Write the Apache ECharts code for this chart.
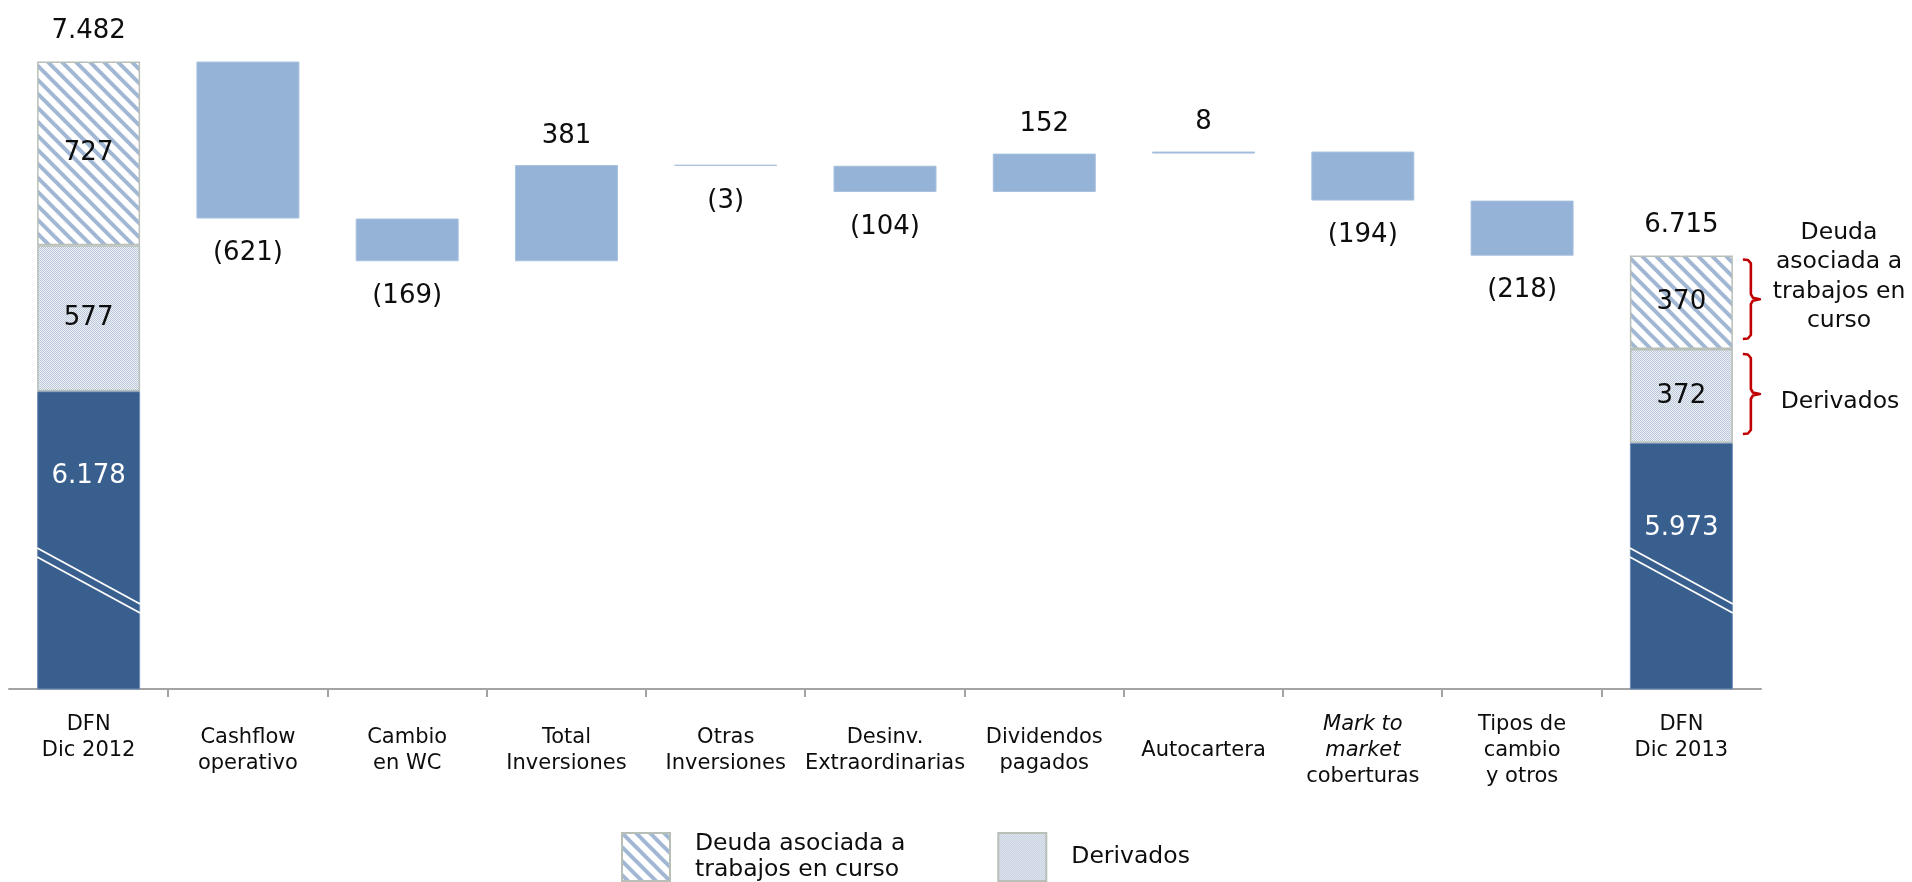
<!DOCTYPE html>
<html>
<head>
<meta charset="utf-8">
<script src="https://cdn.jsdelivr.net/npm/echarts@6/dist/echarts.min.js"></script>
<style>
html,body{margin:0;padding:0;background:#ffffff;}
#chart{width:1912px;height:882px;}
</style>
</head>
<body>
<div id="chart"></div>
<script>
// ---------------- DATA ----------------
const categories = [
  'DFN\nDic 2012', 'Cashflow\noperativo', 'Cambio\nen WC', 'Total\nInversiones',
  'Otras\nInversiones', 'Desinv.\nExtraordinarias', 'Dividendos\npagados', 'Autocartera',
  'Mark to\nmarket\ncoberturas', 'Tipos de\ncambio\ny otros', 'DFN\nDic 2013'
];
// end bars: [Dic 2012, Dic 2013]
const deudaCore = [6178, 5973];
const derivados = [577, 372];
const trabajosEnCurso = [727, 370];
// movements between the two dates (categories 1..9)
const movements = [-621, -169, 381, -3, -104, 152, 8, -194, -218];
const italicLines = ['Mark to', 'market'];
const legendNames = ['Deuda asociada a\ntrabajos en curso', 'Derivados'];
const annotationTexts = ['Deuda\nasociada a\ntrabajos en\ncurso', 'Derivados'];

// ---------------- STYLE ----------------
const FONT = 'DejaVu Sans';
const BAR_W = 103;
const Y_MIN = 5000, Y_MAX = 7500;
const LIGHT = '#95B3D7';
const DARK = '#395F8F';
const SEG_BORDER = '#B7BFB7';
const AXIS_GREY = '#A3A3A3';

function fmt(v) { return String(v).replace(/\B(?=(\d{3})+(?!\d))/g, '.'); }

function hatchPattern() {
  const T = 14;
  const c = document.createElement('canvas');
  c.width = T; c.height = T;
  const g = c.getContext('2d');
  g.fillStyle = '#ffffff'; g.fillRect(0, 0, T, T);
  g.strokeStyle = '#A2B7D4'; g.lineWidth = 4;
  for (let k = -1; k <= 1; k++) {
    g.beginPath(); g.moveTo(k * T - T, -T); g.lineTo(k * T + 2 * T, 2 * T); g.stroke();
  }
  return c;
}
function dotPattern() {
  const c = document.createElement('canvas');
  c.width = 2; c.height = 2;
  const g = c.getContext('2d');
  g.fillStyle = '#EEF1F6'; g.fillRect(0, 0, 2, 2);
  g.fillStyle = '#BAC6DA'; g.fillRect(0, 0, 1, 1); g.fillRect(1, 1, 1, 1);
  return c;
}

// ---------------- BUILD SERIES DATA ----------------
const n = categories.length;
const last = n - 1;
const startTotal = deudaCore[0] + derivados[0] + trabajosEnCurso[0];
const endTotal = deudaCore[1] + derivados[1] + trabajosEnCurso[1];

const baseData = new Array(n).fill('-');
const deltaData = new Array(n).fill('-');
let level = startTotal;
movements.forEach((d, i) => {
  const prev = level;
  level = prev + d;
  baseData[i + 1] = Math.min(prev, level);
  deltaData[i + 1] = { value: Math.abs(d), label: { position: d < 0 ? 'bottom' : 'top', distance: d < 0 ? 22 : 16 } };
});
function endSeries(arr) {
  const a = new Array(n).fill('-');
  a[0] = arr[0]; a[last] = arr[1];
  return a;
}

const chart = echarts.init(document.getElementById('chart'), null, { renderer: 'canvas' });

const labelBase = { fontFamily: FONT, fontSize: 26, color: '#0d0d0d', opacity: 1 };

const option = {
  animation: false,
  backgroundColor: '#ffffff',
  grid: { left: 9, right: 151, top: 57, bottom: 193, outerBoundsMode: 'none', containLabel: false },
  xAxis: {
    type: 'category',
    data: categories,
    axisLine: { show: true, lineStyle: { color: AXIS_GREY, width: 2 } },
    axisTick: { show: false },
    axisLabel: {
      interval: 0, margin: 62, verticalAlign: 'middle', align: 'center',
      formatter: (v, idx) => {
        const lines = v.split('\n').map(l => (italicLines.includes(l) ? '{i|' + l + '}' : '{n|' + l + '}'));
        if (idx === 0 || idx === last) lines.push('{n| }');
        return lines.join('\n');
      },
      rich: {
        n: { fontFamily: FONT, fontSize: 21, lineHeight: 26, color: '#0d0d0d' },
        i: { fontFamily: FONT, fontSize: 21, lineHeight: 26, color: '#0d0d0d', fontStyle: 'italic' }
      }
    },
    splitLine: { show: false }
  },
  yAxis: { type: 'value', min: Y_MIN, max: Y_MAX, show: false, splitLine: { show: false } },
  legend: {
    data: legendNames,
    left: 621, top: 831, padding: 0,
    itemWidth: 48, itemHeight: 48, itemGap: 92,
    icon: 'rect',
    selectedMode: false,
    textStyle: { fontFamily: FONT, fontSize: 23.5, lineHeight: 26, color: '#0d0d0d', padding: [0, 0, 0, 20] }
  },
  series: [
    {
      name: 'base', type: 'bar', stack: 'w', data: baseData, barWidth: BAR_W, silent: true,
      itemStyle: { color: 'rgba(0,0,0,0)' }, emphasis: { disabled: true }
    },
    {
      name: 'movimientos', type: 'bar', stack: 'w', data: deltaData, barWidth: BAR_W,
      itemStyle: { color: LIGHT, borderColor: '#A8C0DE', borderWidth: 1 },
      emphasis: { disabled: true },
      label: Object.assign({
        show: true,
        formatter: (p) => {
          const d = movements[p.dataIndex - 1];
          return d < 0 ? '(' + Math.abs(d) + ')' : String(d);
        }
      }, labelBase)
    },
    {
      name: 'DFN', type: 'bar', stack: 'w', data: endSeries(deudaCore), barWidth: BAR_W,
      itemStyle: { color: DARK, borderColor: '#6F8FBA', borderWidth: 1 },
      emphasis: { disabled: true },
      label: Object.assign({}, labelBase, {
        show: true, position: 'insideTop', distance: 72, color: '#ffffff',
        formatter: (p) => fmt(p.value)
      })
    },
    {
      name: legendNames[1], type: 'bar', stack: 'w', data: endSeries(derivados), barWidth: BAR_W,
      itemStyle: { color: { image: dotPattern(), repeat: 'repeat' }, borderColor: SEG_BORDER, borderWidth: 1.5 },
      emphasis: { disabled: true },
      label: Object.assign({}, labelBase, { show: true, position: 'inside', formatter: (p) => fmt(p.value) })
    },
    {
      name: legendNames[0], type: 'bar', stack: 'w', data: endSeries(trabajosEnCurso), barWidth: BAR_W,
      itemStyle: { color: { image: hatchPattern(), repeat: 'repeat' }, borderColor: SEG_BORDER, borderWidth: 1.5 },
      emphasis: { disabled: true },
      label: Object.assign({}, labelBase, { show: true, position: 'inside', formatter: (p) => fmt(p.value) })
    },
    {
      name: 'totales', type: 'scatter', data: [[0, startTotal], [last, endTotal]],
      symbolSize: 1, itemStyle: { color: '#ffffff', opacity: 1 }, silent: true,
      emphasis: { disabled: true },
      label: Object.assign({}, labelBase, {
        show: true, position: 'top', distance: 17, color: '#0d0d0d', formatter: (p) => fmt(p.value[1])
      })
    }
  ]
};
chart.setOption(option);

// ---------------- DECORATIONS (ticks, break marks, brackets, annotations) ----------------
const yBottom = chart.convertToPixel({ yAxisIndex: 0 }, Y_MIN);
const px = (i) => chart.convertToPixel({ xAxisIndex: 0 }, i);
const graphics = [];
for (let i = 0; i < last; i++) {
  const x = Math.round((px(i) + px(i + 1)) / 2);
  graphics.push({
    type: 'line', z: 50,
    shape: { x1: x, y1: yBottom, x2: x, y2: yBottom + 8 },
    style: { stroke: AXIS_GREY, lineWidth: 2 }
  });
}
[0, last].forEach((ci) => {
  const cx = px(ci);
  const l = cx - BAR_W / 2, r = cx + BAR_W / 2;
  [0, 9].forEach((off) => {
    graphics.push({
      type: 'line', z: 100,
      shape: { x1: l, y1: yBottom - 141 + off, x2: r, y2: yBottom - 85 + off },
      style: { stroke: '#ffffff', lineWidth: 1.8 }
    });
  });
});
function brace(x0, y0, y1) {
  const x1 = x0 + 8, x2 = x0 + 17, ym = (y0 + y1) / 2;
  return {
    type: 'polyline', z: 100,
    shape: {
      points: [[x0, y0], [x1 - 3, y0 + 0.5], [x1, y0 + 4], [x1, ym - 5], [x1 + 2, ym - 1.5], [x2, ym],
               [x1 + 2, ym + 1.5], [x1, ym + 5], [x1, y1 - 4], [x1 - 3, y1 - 0.5], [x0, y1]]
    },
    style: { stroke: '#C00000', lineWidth: 2.6, fill: null, lineJoin: 'round' }
  };
}
const bx = px(last) + BAR_W / 2 + 10;
const yTop = chart.convertToPixel({ yAxisIndex: 0 }, endTotal);
const yMid = chart.convertToPixel({ yAxisIndex: 0 }, deudaCore[1] + derivados[1]);
const yCore = chart.convertToPixel({ yAxisIndex: 0 }, deudaCore[1]);
graphics.push(brace(bx, yTop + 4, yMid - 10));
graphics.push(brace(bx, yMid + 5, yCore - 9));
graphics.push({
  type: 'text', z: 100, x: 1839, y: 277,
  style: { text: annotationTexts[0], fontFamily: FONT, fontSize: 23.5, lineHeight: 29.5, fill: '#0d0d0d', align: 'center', verticalAlign: 'middle' }
});
graphics.push({
  type: 'text', z: 100, x: 1840, y: 402,
  style: { text: annotationTexts[1], fontFamily: FONT, fontSize: 23.5, lineHeight: 29.5, fill: '#0d0d0d', align: 'center', verticalAlign: 'middle' }
});
chart.setOption({ graphic: graphics });
</script>
</body>
</html>
